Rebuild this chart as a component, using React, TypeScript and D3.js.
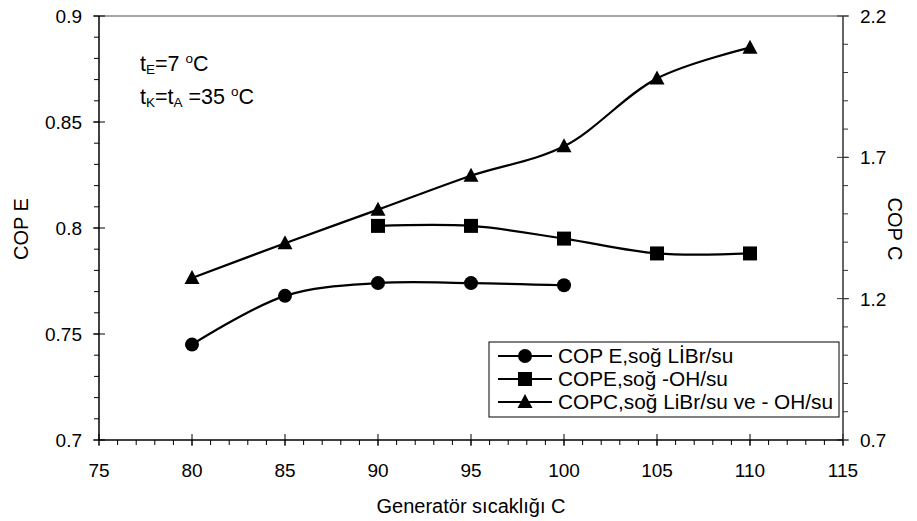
import React, {useEffect, useRef} from 'react'
import * as d3 from 'd3'

const margin = {top: 16, right: 74, bottom: 81, left: 99}
const width = 917
const height = 521
const graphWidth = width - margin.left - margin.right
const graphHeight = height - margin.top - margin.bottom

// data
const tempsE = [80, 85, 90, 95, 100]
const copELiBr = [0.745, 0.768, 0.774, 0.774, 0.773]

const tempsOH = [90, 95, 100, 105, 110]
const copEOH = [0.801, 0.801, 0.795, 0.788, 0.788]

const tempsC = [80, 85, 90, 95, 100, 105, 110]
const copC = [1.273, 1.396, 1.515, 1.635, 1.739, 1.979, 2.088]

const xTicks = [75, 80, 85, 90, 95, 100, 105, 110, 115]
const leftTicks = [0.7, 0.75, 0.8, 0.85, 0.9]
const rightTicks = [0.7, 1.2, 1.7, 2.2]

const legendLabels = ['COP E,soğ LİBr/su', 'COPE,soğ -OH/su', 'COPC,soğ LiBr/su ve - OH/su']

const font = 'Liberation Sans, Arial, sans-serif'

export default function App() {
    const ref = useRef<SVGSVGElement>(null)

    useEffect(() => {
        const svg = d3.select(ref.current)
        svg.selectAll('*').remove()
        svg.style('font-family', font)

        const g = svg.append('g').attr('transform', `translate(${margin.left}, ${margin.top})`)

        const x = d3.scaleLinear().domain([75, 115]).range([0, graphWidth])
        const yL = d3.scaleLinear().domain([0.7, 0.9]).range([graphHeight, 0])
        const yR = d3.scaleLinear().domain([0.7, 2.2]).range([graphHeight, 0])

        // frame top
        g.append('line').attr('x1', 0).attr('x2', graphWidth).attr('y1', 0).attr('y2', 0)
            .attr('stroke', '#888').attr('stroke-width', 1.5)

        // minor ticks
        const xMinor = d3.range(75, 115.01, 1)
        g.selectAll('.xminor').data(xMinor).join('line')
            .attr('x1', d => x(d)).attr('x2', d => x(d))
            .attr('y1', graphHeight).attr('y2', graphHeight + 5)
            .attr('stroke', '#000')
        const lMinor = d3.range(0, 21).map(i => 0.7 + i * 0.01)
        g.selectAll('.lminor').data(lMinor).join('line')
            .attr('x1', -5).attr('x2', 0)
            .attr('y1', d => yL(d)).attr('y2', d => yL(d))
            .attr('stroke', '#000')
        const rMinor = d3.range(0, 16).map(i => 0.7 + i * 0.1)
        g.selectAll('.rminor').data(rMinor).join('line')
            .attr('x1', graphWidth).attr('x2', graphWidth + 5)
            .attr('y1', d => yR(d)).attr('y2', d => yR(d))
            .attr('stroke', '#333')

        // major ticks (crossing)
        g.selectAll('.xmajor').data(xTicks).join('line')
            .attr('x1', d => x(d)).attr('x2', d => x(d))
            .attr('y1', graphHeight - 6).attr('y2', graphHeight + 6)
            .attr('stroke', '#000')
        g.selectAll('.lmajor').data(leftTicks).join('line')
            .attr('x1', -6).attr('x2', 6)
            .attr('y1', d => yL(d)).attr('y2', d => yL(d))
            .attr('stroke', '#000')
        g.selectAll('.rmajor').data(rightTicks).join('line')
            .attr('x1', graphWidth - 6).attr('x2', graphWidth + 6)
            .attr('y1', d => yR(d)).attr('y2', d => yR(d))
            .attr('stroke', '#333')

        // axis lines
        g.append('line').attr('x1', 0).attr('x2', 0).attr('y1', 0).attr('y2', graphHeight)
            .attr('stroke', '#000').attr('stroke-width', 1.5)
        g.append('line').attr('x1', graphWidth).attr('x2', graphWidth).attr('y1', 0).attr('y2', graphHeight)
            .attr('stroke', '#333').attr('stroke-width', 1.5)
        g.append('line').attr('x1', 0).attr('x2', graphWidth).attr('y1', graphHeight).attr('y2', graphHeight)
            .attr('stroke', '#000').attr('stroke-width', 1.5)

        // tick labels
        g.selectAll('.xlab').data(xTicks).join('text')
            .attr('x', d => x(d)).attr('y', graphHeight + 37)
            .attr('text-anchor', 'middle').attr('font-size', 19)
            .text(d => d)
        g.selectAll('.llab').data(leftTicks).join('text')
            .attr('x', -17).attr('y', d => yL(d) + 7)
            .attr('text-anchor', 'end').attr('font-size', 19)
            .text(d => d)
        g.selectAll('.rlab').data(rightTicks).join('text')
            .attr('x', graphWidth + 17).attr('y', d => yR(d) + 7)
            .attr('text-anchor', 'start').attr('font-size', 19)
            .text(d => d3.format('.1f')(d))

        // axis titles
        svg.append('text').attr('x', margin.left + graphWidth / 2).attr('y', 513)
            .attr('text-anchor', 'middle').attr('font-size', 20).text('Generatör sıcaklığı C')
        svg.append('text').attr('transform', `translate(28, 229) rotate(-90)`)
            .attr('text-anchor', 'middle').attr('font-size', 20).text('COP E')
        svg.append('text').attr('transform', `translate(888, 229) rotate(90)`)
            .attr('text-anchor', 'middle').attr('font-size', 20).text('COP C')

        // annotation
        const ann1 = svg.append('text').attr('x', 140).attr('y', 71).attr('font-size', 21.5)
        ann1.append('tspan').text('t')
        ann1.append('tspan').attr('font-size', 13.5).attr('dy', 3).text('E')
        ann1.append('tspan').attr('dy', -3).text('=7 ')
        ann1.append('tspan').attr('font-size', 13.5).attr('dy', -8).text('o')
        ann1.append('tspan').attr('dy', 8).text('C')
        const ann2 = svg.append('text').attr('x', 140).attr('y', 104).attr('font-size', 21.5)
        ann2.append('tspan').text('t')
        ann2.append('tspan').attr('font-size', 13.5).attr('dy', 3).text('K')
        ann2.append('tspan').attr('dy', -3).text('=t')
        ann2.append('tspan').attr('font-size', 13.5).attr('dy', 3).text('A')
        ann2.append('tspan').attr('dy', -3).text(' =35 ')
        ann2.append('tspan').attr('font-size', 13.5).attr('dy', -8).text('o')
        ann2.append('tspan').attr('dy', 8).text('C')

        const line = d3.line<[number, number]>().curve(d3.curveCatmullRom.alpha(0.5))

        const series = [
            {xs: tempsE, ys: copELiBr, y: yL, marker: 'circle'},
            {xs: tempsOH, ys: copEOH, y: yL, marker: 'square'},
            {xs: tempsC, ys: copC, y: yR, marker: 'triangle'},
        ]

        const drawMarker = (sel: any, type: string, cx: number, cy: number) => {
            if (type === 'circle') {
                sel.append('circle').attr('cx', cx).attr('cy', cy).attr('r', 7).attr('fill', '#000')
            } else if (type === 'square') {
                sel.append('rect').attr('x', cx - 7).attr('y', cy - 7).attr('width', 14).attr('height', 14).attr('fill', '#000')
            } else {
                sel.append('path').attr('d', `M${cx},${cy - 8}L${cx + 7.5},${cy + 6}L${cx - 7.5},${cy + 6}Z`).attr('fill', '#000')
            }
        }

        series.forEach(s => {
            const pts = s.xs.map((d, i) => [x(d), s.y(s.ys[i])] as [number, number])
            g.append('path').attr('d', line(pts)).attr('fill', 'none')
                .attr('stroke', '#000').attr('stroke-width', 2.2)
            pts.forEach(p => drawMarker(g, s.marker, p[0], p[1]))
        })

        // legend
        const lg = svg.append('g').attr('transform', 'translate(489, 342)')
        lg.append('rect').attr('width', 350).attr('height', 75)
            .attr('fill', '#fff').attr('stroke', '#000').attr('stroke-width', 1)
        legendLabels.forEach((label, i) => {
            const cy = 14 + i * 23
            lg.append('line').attr('x1', 9).attr('x2', 63).attr('y1', cy).attr('y2', cy)
                .attr('stroke', '#000').attr('stroke-width', 2.2)
            drawMarker(lg, series[i].marker, 36, cy)
            lg.append('text').attr('x', 69).attr('y', cy + 7).attr('font-size', 20.8).text(label)
        })
    }, [])

    return (
        <svg ref={ref} width={width} height={height} style={{position: 'absolute', left: 0, top: 0, background: '#fff'}} />
    )
}
